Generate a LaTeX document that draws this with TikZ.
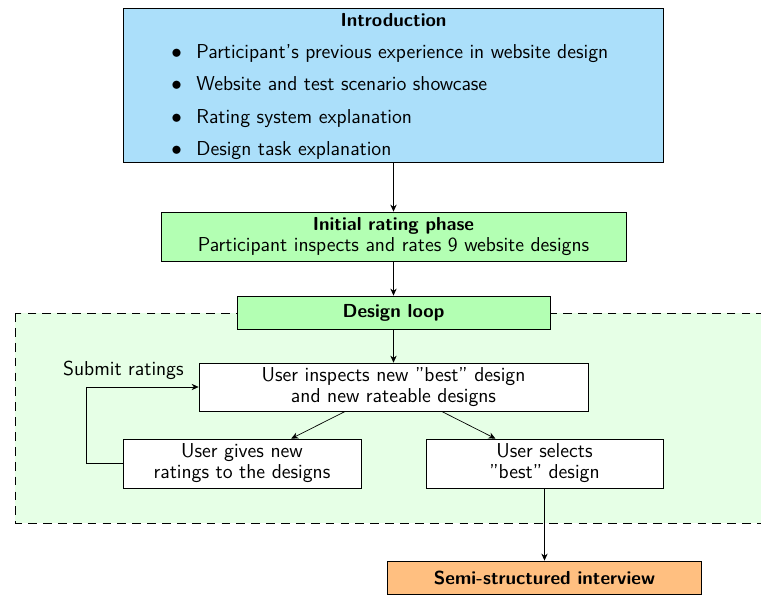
\documentclass[tikz,border=0pt]{standalone}
\usetikzlibrary{arrows.meta}
\definecolor{introblue}{RGB}{171,223,250}
\definecolor{phasegreen}{RGB}{179,255,179}
\definecolor{loopbg}{RGB}{230,255,230}
\definecolor{interviewor}{RGB}{255,191,128}
\newcommand{\headtext}[1]{{\fontsize{10.75}{12}\selectfont\bfseries #1}}
\begin{document}
\begin{tikzpicture}[x=0.5714pt,y=-0.5714pt,font=\sffamily\fontsize{11.5}{12}\selectfont]
\tikzset{
  box/.style={draw,inner sep=0pt,align=center},
  item/.style={anchor=base west,inner sep=0pt},
  flow/.style={-{Stealth[length=4pt,width=3.6pt]}}
}
\useasboundingbox (0,0) rectangle (761,595);
\clip (0,0) rectangle (761,595);
% loop background
\path[draw,dash pattern=on 5pt off 3.5pt,fill=loopbg] (15,313) rectangle (790,523);
% introduction
\node[box,fill=introblue,minimum width=308.6pt,minimum height=88pt] (intro) at (393.5,85) {};
\node[anchor=base,inner sep=0pt] (introtitle) at (393.5,26) {\headtext{Introduction}};
\node[item] (b1) at (171,58) {$\bullet$};
\node[item] (t1) at (196,58) {Participant's previous experience in website design};
\node[item] (b2) at (171,91) {$\bullet$};
\node[item] (t2) at (196,91) {Website and test scenario showcase};
\node[item] (b3) at (171,123) {$\bullet$};
\node[item] (t3) at (196,123) {Rating system explanation};
\node[item] (b4) at (171,155) {$\bullet$};
\node[item] (t4) at (196,155) {Design task explanation};
% phases
\node[box,fill=phasegreen,minimum width=265.7pt,minimum height=28pt] (initial) at (393.5,236.5) {\headtext{Initial rating phase}\\Participant inspects and rates 9 website designs};
\node[box,fill=phasegreen,minimum width=178.9pt,minimum height=18.9pt] (loop) at (393.5,312.5) {\headtext{Design loop}};
\node[box,fill=white,minimum width=222.3pt,minimum height=27.4pt] (inspects) at (393.5,387) {User inspects new ''best'' design\\and new rateable designs};
\node[box,fill=white,minimum width=136pt,minimum height=28pt] (gives) at (242,463.5) {User gives new\\ratings to the designs};
\node[box,fill=white,minimum width=135.4pt,minimum height=28pt] (selects) at (544.5,463.5) {User selects\\''best'' design};
\node[box,fill=interviewor,minimum width=179.4pt,minimum height=18.9pt] (interview) at (544.5,577.5) {\headtext{Semi-structured interview}};
\node[anchor=base east,inner sep=0pt] (submit) at (184,375) {Submit ratings};
\coordinate (fbcorner) at (86,463.5);
% connectors
\draw[flow] (intro.south) -- (initial.north);
\draw[flow] (initial.south) -- (loop.north);
\draw[flow] (loop.south) -- (inspects.north);
\draw[flow] (inspects) -- (gives);
\draw[flow] (inspects) -- (selects);
\draw[flow] (gives.west) -- (fbcorner) |- (inspects.west);
\draw[flow] (selects.south) -- (interview.north);
\end{tikzpicture}
\end{document}
